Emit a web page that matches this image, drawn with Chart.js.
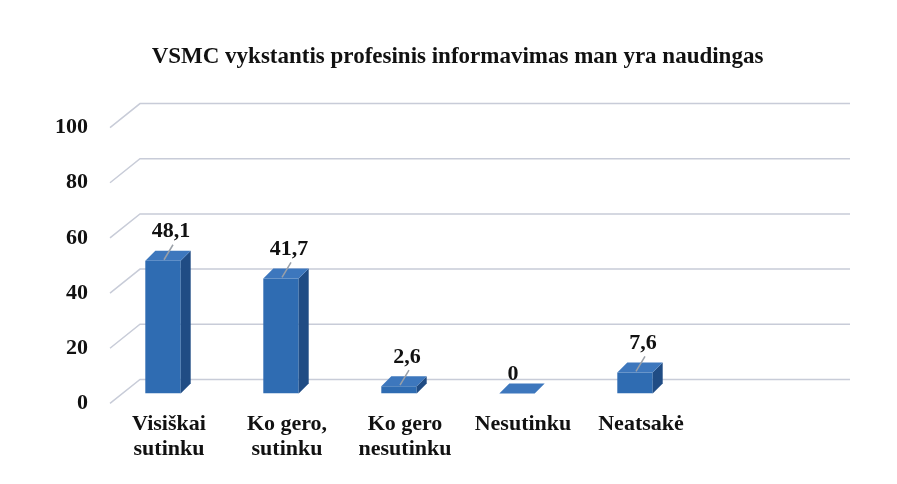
<!DOCTYPE html>
<html>
<head>
<meta charset="utf-8">
<script src="https://cdn.jsdelivr.net/npm/chart.js@4"></script>
<style>
  html, body { margin: 0; padding: 0; background: #fff; }
  #wrap { width: 897px; height: 484px; }
</style>
</head>
<body>
<div id="wrap"><canvas id="chart"></canvas></div>
<script>
const categories = [['Visiškai', 'sutinku'], ['Ko gero,', 'sutinku'], ['Ko gero', 'nesutinku'], 'Nesutinku', 'Neatsakė'];
const values = [48.1, 41.7, 2.6, 0, 7.6];
const yTicks = [0, 20, 40, 60, 80, 100];

const FONT = '"Liberation Serif", "Times New Roman", serif';
const DEPTH = 10;

// perspective gridlines: front edge, diagonal to back wall, then across
const wallGrid = {
    id: 'wallGrid',
    beforeDatasetsDraw(chart) {
        const { ctx, chartArea, scales } = chart;
        ctx.save();
        ctx.strokeStyle = '#c8ccd8';
        ctx.lineWidth = 1.5;
        yTicks.forEach(function (v) {
            const y = scales.y.getPixelForValue(v);
            ctx.beginPath();
            ctx.moveTo(chartArea.left + 6, y + 10);
            ctx.lineTo(chartArea.left + 36, y - 14);
            ctx.lineTo(chart.width - 47, y - 14);
            ctx.stroke();
        });
        ctx.restore();
    }
};

// side + top faces of the bars, and the value labels with leader lines
const bars3d = {
    id: 'bars3d',
    afterDatasetsDraw(chart) {
        const { ctx } = chart;
        const meta = chart.getDatasetMeta(0);
        ctx.save();
        meta.data.forEach(function (bar, i) {
            const p = bar.getProps(['x', 'y', 'base', 'width'], true);
            const l = p.x - p.width / 2, r = p.x + p.width / 2;
            ctx.fillStyle = '#204c84';
            ctx.beginPath();
            ctx.moveTo(r, p.y);
            ctx.lineTo(r + DEPTH, p.y - DEPTH);
            ctx.lineTo(r + DEPTH, p.base - DEPTH);
            ctx.lineTo(r, p.base);
            ctx.closePath();
            ctx.fill();
            ctx.fillStyle = '#3d77bd';
            ctx.beginPath();
            ctx.moveTo(l, p.y);
            ctx.lineTo(r, p.y);
            ctx.lineTo(r + DEPTH, p.y - DEPTH);
            ctx.lineTo(l + DEPTH, p.y - DEPTH);
            ctx.closePath();
            ctx.fill();

            const v = values[i];
            let lx = p.x + 8, ly = p.y - 29;
            if (v > 0) {
                ctx.strokeStyle = '#9aa0a8';
                ctx.lineWidth = 1.5;
                ctx.beginPath();
                ctx.moveTo(p.x + 1, p.y - 1);
                ctx.lineTo(p.x + 10, p.y - 16);
                ctx.stroke();
            } else {
                lx = p.x - 4;
                ly = p.y - 19;
            }
            ctx.fillStyle = '#111';
            ctx.font = 'bold 22px ' + FONT;
            ctx.textAlign = 'center';
            ctx.textBaseline = 'middle';
            ctx.fillText(String(v).replace('.', ','), lx, ly);
        });
        ctx.restore();
    }
};

new Chart(document.getElementById('chart'), {
    type: 'bar',
    data: {
        labels: categories,
        datasets: [{
            data: values,
            backgroundColor: '#2f6cb2',
            borderWidth: 0,
            barPercentage: 0.3,
            categoryPercentage: 1,
        }],
    },
    options: {
        responsive: true,
        maintainAspectRatio: false,
        animation: false,
        layout: { padding: { left: 34, right: 16, top: 0, bottom: 4 } },
        plugins: {
            legend: { display: false },
            tooltip: { enabled: false },
            title: {
                display: true,
                text: 'VSMC vykstantis profesinis informavimas man yra naudingas',
                color: '#111',
                font: { family: FONT, size: 23, weight: 'bold', lineHeight: 1.2 },
                padding: { top: 43, bottom: 47 },
            },
        },
        scales: {
            x: {
                grid: { display: false, drawTicks: false },
                border: { display: false },
                ticks: {
                    color: '#111',
                    font: { family: FONT, size: 22, weight: 'bold', lineHeight: 1.15 },
                    padding: 18,
                    labelOffset: 6,
                    maxRotation: 0,
                    autoSkip: false,
                },
            },
            y: {
                min: 0,
                max: 100,
                grid: { display: false, drawTicks: false },
                border: { display: false },
                afterFit(scale) {
                    scale.width = 70;
                    scale.paddingTop = 0;
                    scale.paddingBottom = 0;
                },
                afterBuildTicks(scale) { scale.ticks = yTicks.map(v => ({ value: v })); },
                ticks: {
                    color: '#111',
                    font: { family: FONT, size: 22, weight: 'bold' },
                    padding: 16,
                    labelOffset: 10,
                },
            },
            yRight: {
                position: 'right',
                display: true,
                grid: { display: false, drawTicks: false },
                border: { display: false },
                ticks: { display: false },
                afterFit(scale) { scale.width = 187; },
            },
        },
    },
    plugins: [wallGrid, bars3d],
});
</script>
</body>
</html>
